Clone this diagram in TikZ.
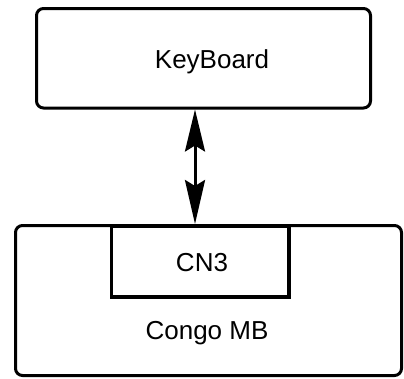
\documentclass[tikz,border=0pt]{standalone}
\usepackage{fontspec}
\setmainfont{Liberation Sans}
\usetikzlibrary{arrows.meta}
\begin{document}
\begin{tikzpicture}[x=1pt,y=-1pt,
  box/.style={draw=black,line width=3pt,rounded corners=7pt,inner sep=0pt},
  sqbox/.style={draw=black,line width=3.5pt,inner sep=0pt},
  lbl/.style={font=\fontsize{26}{28}\selectfont,inner sep=0pt},
  link/.style={line width=3pt,{Stealth[length=42pt,width=20pt,inset=6pt]}-{Stealth[length=44pt,width=20pt,inset=6pt]}}]
\useasboundingbox (0,0) rectangle (404,378);
\node[box,minimum width=334pt,minimum height=99.5pt] (kb) at (203.5,58.25) {};
\node[lbl] (kbtext) at (212,62) {KeyBoard};
\node[box,minimum width=386pt,minimum height=150pt] (mb) at (208.5,300.5) {};
\node[sqbox,fill=white,minimum width=177.5pt,minimum height=71pt] (cn3) at (200.25,261.5) {};
\node[lbl] (cn3text) at (202,263) {CN3};
\node[lbl] (mbtext) at (207,333) {Congo MB};
\coordinate (atop) at ([xshift=-8.5pt]kb.south);
\draw[link] (atop) -- (atop |- mb.north);
\end{tikzpicture}
\end{document}
